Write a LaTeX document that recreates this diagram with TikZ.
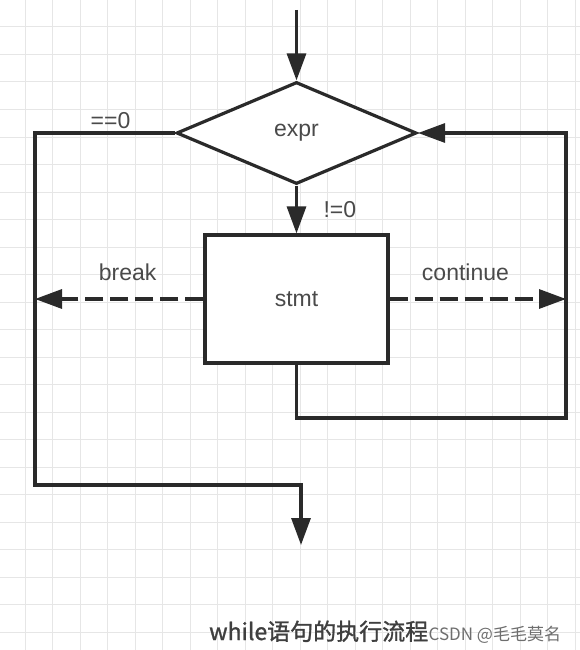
\documentclass[tikz,border=0pt]{standalone}
\usepackage{fontspec}
\setmainfont{Liberation Sans}
\newfontfamily\cjkfont{Noto Sans CJK SC}
\newfontfamily\cjkheavy[FakeBold=1.2]{Noto Sans CJK SC}
\usetikzlibrary{arrows.meta,positioning,shapes.geometric}
\definecolor{gridgray}{HTML}{E6E6E6}
\definecolor{inkgray}{HTML}{2A2A2A}
\definecolor{labelgray}{HTML}{4A4A4A}
\definecolor{markgray}{HTML}{6E6E6E}
\tikzset{decision/.style={diamond,draw=inkgray,line width=3.2pt,fill=white,minimum width=240pt,minimum height=102pt,inner sep=0pt,font=\fontsize{23}{27}\selectfont,text=labelgray},process/.style={rectangle,draw=inkgray,line width=3.2pt,fill=white,minimum width=183pt,minimum height=128pt,inner sep=0pt,font=\fontsize{23}{27}\selectfont,text=labelgray},flow/.style={-{Triangle[length=27pt,width=19pt]},draw=inkgray,line width=3.2pt},jump/.style={flow,dash pattern=on 18pt off 7pt},tag/.style={font=\fontsize{23}{27}\selectfont,text=labelgray,inner sep=2pt},gridline/.style={draw=gridgray,line width=1pt},every picture/.style={line join=miter}}

\begin{document}
\begin{tikzpicture}[x=1pt,y=-1pt]
\fill[white] (0,0) rectangle (580,650);
\useasboundingbox (0,0) rectangle (580,650);
% grid paper
\foreach \gx in {0,...,20}{\draw[gridline] ({25.2+27.49*\gx},0)--({25.2+27.49*\gx},650);}
\foreach \gy in {0,...,23}{\draw[gridline] (0,{-0.5+27.5*\gy})--(580,{-0.5+27.5*\gy});}
\node[decision] (expr) at (296.5,133) {expr};
\node[process] (stmt) at (296.5,299) {stmt};
\coordinate (entry) at (296.5,10);
\coordinate (exit) at (301,545);
\coordinate (railL) at (35,133);
\coordinate (railLB) at (35,485);
\coordinate (brk) at (35,299);
\coordinate (cont) at (566,299);
\coordinate (loopB) at (296.5,418);
\coordinate (railR) at (566,133);
\draw[flow] (entry)--(expr.north);
\draw[flow] (expr.south)--node[tag,right=23.5pt]{!=0}(stmt.north);
\draw[flow] (expr.west)--node[tag,above=1pt,pos=0.46]{==0}(railL)--(railLB)-|(exit);
\draw[jump] (stmt.west)--node[tag,above=15pt,pos=0.45]{break}(brk);
\draw[jump] (stmt.east)--node[tag,above=15pt,pos=0.43]{continue}(cont);
\draw[flow] (stmt.south)--(loopB)-|(railR)--(expr.east);
\node[anchor=base west,inner sep=0pt,font=\cjkheavy\fontsize{23}{27}\selectfont,text=inkgray!90] (caption) at (209,640) {while语句的执行流程};
\node[base right=0pt of caption,inner sep=0pt,font=\cjkfont\fontsize{17}{20}\selectfont,text=markgray] (mark) {CSDN @毛毛莫名};
\end{tikzpicture}
\end{document}
